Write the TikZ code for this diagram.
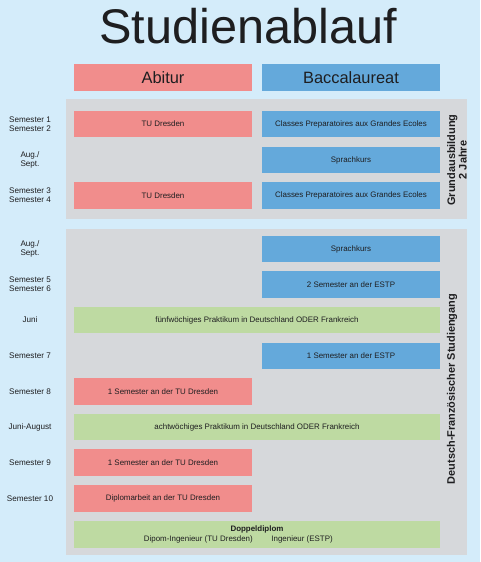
\documentclass[tikz,border=0pt]{standalone}
\usepackage{fontspec}
\setmainfont{Liberation Sans}
\usetikzlibrary{positioning}
\definecolor{skyback}{RGB}{212,236,250}
\definecolor{panelgray}{RGB}{214,216,219}
\definecolor{abired}{RGB}{241,141,140}
\definecolor{bacblue}{RGB}{100,169,219}
\definecolor{praxgreen}{RGB}{190,218,162}
\definecolor{inkdark}{RGB}{30,30,32}

\begin{document}
\begin{tikzpicture}[x=0.75pt,y=-0.75pt,
  every node/.style={inner sep=0pt,outer sep=0pt,text=inkdark},
  panel/.style={fill=panelgray,minimum width=300.75pt},
  redbox/.style={fill=abired,minimum width=133.5pt,minimum height=20pt,font=\fontsize{5.95}{7}\selectfont},
  bluebox/.style={fill=bacblue,minimum width=133.5pt,minimum height=20pt,font=\fontsize{5.95}{7}\selectfont},
  greenbox/.style={fill=praxgreen,minimum width=274.5pt,minimum height=20pt,align=center,font=\fontsize{5.95}{7}\selectfont},
  headbox/.style={minimum width=133.5pt,minimum height=20.25pt,font=\fontsize{12.3}{14}\selectfont},
  rowlabel/.style={align=center,font=\fontsize{6.1}{6.6}\selectfont},
  sidelabel/.style={rotate=90,align=center,font=\fontsize{8.2}{8.6}\selectfont\bfseries}]
\fill[skyback] (0,0) rectangle (480,562);
\useasboundingbox (0,0) rectangle (480,562);
% title and column heads
\node[font=\fontsize{36.5}{40}\selectfont] (title) at (248,26) {Studienablauf};
\node[headbox,fill=abired] (abitur) at (163,77.5) {Abitur};
\node[headbox,fill=bacblue] (bac) at (351,77.5) {Baccalaureat};
% grey panels
\node[panel,minimum height=90pt] (basis) at (266.5,159) {};
\node[panel,minimum height=244.5pt] (dfs) at (266.5,392) {};
% Grundausbildung
\node[rowlabel] (l1) at (30,124) {Semester 1\\Semester 2};
\node[redbox] (tu1) at (163,124) {TU Dresden};
\node[bluebox] (cpge1) at (351,124) {Classes Preparatoires aux Grandes Ecoles};
\node[rowlabel] (l2) at (30,160) {Aug./\\Sept.};
\node[bluebox] (sk1) at (351,160) {Sprachkurs};
\node[rowlabel] (l3) at (30,195.5) {Semester 3\\Semester 4};
\node[redbox] (tu2) at (163,195.5) {TU Dresden};
\node[bluebox] (cpge2) at (351,195.5) {Classes Preparatoires aux Grandes Ecoles};
\node[sidelabel] (gab) at (457,160) {Grundausbildung\\2 Jahre};
% Deutsch-Franzoesischer Studiengang
\node[rowlabel] (l4) at (30,249) {Aug./\\Sept.};
\node[bluebox] (sk2) at (351,249) {Sprachkurs};
\node[rowlabel] (l5) at (30,284.5) {Semester 5\\Semester 6};
\node[bluebox] (estp2) at (351,284.5) {2 Semester an der ESTP};
\node[rowlabel] (l6) at (30,320) {Juni};
\node[greenbox] (prak5) at (257,320) {fünfwöchiges Praktikum in Deutschland ODER Frankreich};
\node[rowlabel] (l7) at (30,356) {Semester 7};
\node[bluebox] (estp1) at (351,356) {1 Semester an der ESTP};
\node[rowlabel] (l8) at (30,391.5) {Semester 8};
\node[redbox] (tus8) at (163,391.5) {1 Semester an der TU Dresden};
\node[rowlabel] (l9) at (30,427) {Juni-August};
\node[greenbox] (prak8) at (257,427) {achtwöchiges Praktikum in Deutschland ODER Frankreich};
\node[rowlabel] (l10) at (30,462.5) {Semester 9};
\node[redbox] (tus9) at (163,462.5) {1 Semester an der TU Dresden};
\node[rowlabel] (l11) at (30,498.5) {Semester 10};
\node[redbox] (dipl) at (163,498.5) {Diplomarbeit an der TU Dresden};
\node[greenbox] (ddipl) at (257,534.5) {\textbf{Doppeldiplom}\\Dipom-Ingenieur (TU Dresden)\hspace{14pt}Ingenieur (ESTP)\hspace{28pt}\mbox{}};
\node[sidelabel] (dfsl) at (452,389) {Deutsch-Französischer Studiengang};
\end{tikzpicture}
\end{document}
